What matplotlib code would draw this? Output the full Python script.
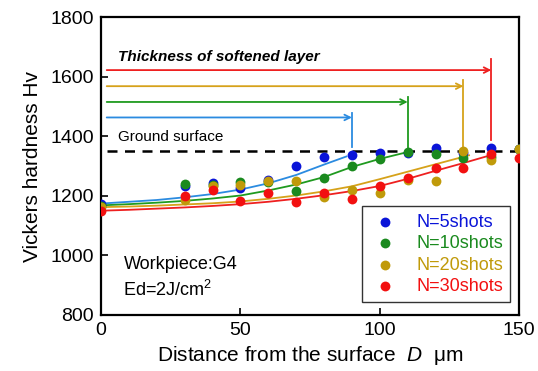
"""
Vickers hardness profiles vs depth for different shot counts
"""
import numpy as np
import matplotlib
matplotlib.use("Agg")
import matplotlib.pyplot as plt

plt.rcParams['font.family'] = ['Liberation Sans', 'DejaVu Sans']
plt.rcParams['mathtext.fontset'] = 'custom'
plt.rcParams['mathtext.it'] = 'Liberation Sans:italic'
plt.rcParams['mathtext.rm'] = 'Liberation Sans'

depth = [0, 30, 40, 50, 60, 70, 80, 90, 100, 110, 120, 130, 140, 150]
hv_5 = [1172, 1232, 1242, 1226, 1253, 1300, 1329, 1337, 1343, 1344, 1361, 1345, 1362, 1358]
hv_10 = [1167, 1238, 1236, 1247, 1245, 1216, 1261, 1300, 1322, 1347, 1339, 1328, 1330, 1357]
hv_20 = [1163, 1186, 1233, 1236, 1250, 1251, 1196, 1220, 1210, 1254, 1250, 1350, 1320, 1357]
hv_30 = [1150, 1201, 1220, 1183, 1208, 1178, 1208, 1188, 1233, 1259, 1294, 1294, 1339, 1328]

# fitted curves
fit_x_5 = [0, 10, 20, 30, 40, 50, 60, 70, 80, 88]
fit_5 = [1174, 1180, 1186, 1195, 1206, 1221, 1242, 1270, 1305, 1332]
fit_x_10 = [0, 10, 20, 30, 40, 50, 60, 70, 80, 90, 100, 110]
fit_10 = [1168, 1172, 1177, 1183, 1191, 1201, 1218, 1238, 1263, 1297, 1324, 1347]
fit_x_20 = [0, 10, 20, 30, 40, 50, 60, 70, 80, 90, 100, 110, 120, 132]
fit_20 = [1162, 1164, 1167, 1171, 1175, 1181, 1190, 1201, 1215, 1232, 1256, 1281, 1306, 1336]
fit_x_30 = [0, 10, 20, 30, 40, 50, 60, 70, 80, 90, 100, 110, 120, 130, 140]
fit_30 = [1150, 1153, 1157, 1161, 1166, 1172, 1180, 1190, 1202, 1216, 1233, 1257, 1284, 1310, 1337]

labels = ["N=5shots", "N=10shots", "N=20shots", "N=30shots"]
dot_colors = ["#0a14d8", "#1a8a1e", "#c09a0a", "#f21010"]
line_colors = ["#2b8be0", "#1f9a1f", "#d6a21a", "#ee2020"]

# softened layer thickness arrows: (end depth, arrow level, top, bottom)
thickness = [90, 110, 130, 140]
arrow_level = [1463, 1515, 1568, 1622]
arrow_top = [1478, 1532, 1590, 1660]
arrow_bottom = [1365, 1352, 1352, 1388]
ground = 1350

fig = plt.figure(figsize=(5.38, 3.71), dpi=100)
ax = fig.add_axes([0.188, 0.151, 0.777, 0.803])

series = [hv_5, hv_10, hv_20, hv_30]
fits = [(fit_x_5, fit_5), (fit_x_10, fit_10), (fit_x_20, fit_20), (fit_x_30, fit_30)]

for (fx, fy), c in zip(fits, line_colors):
    ax.plot(fx, fy, color=c, lw=1.3, zorder=2)

for hv, c, lab in zip(series, dot_colors, labels):
    ax.scatter(depth, hv, s=50, color=c, label=lab, zorder=3, linewidths=0)

ax.plot([2, 150], [ground, ground], color="black", lw=1.8, ls=(0, (4, 3)), zorder=1)
ax.text(6, 1397, "Ground surface", fontsize=11, va="center")

for end, lvl, top, bot, c in zip(thickness, arrow_level, arrow_top, arrow_bottom, line_colors):
    ax.annotate("", xy=(end, lvl), xytext=(2, lvl),
                arrowprops=dict(arrowstyle="->", color=c, lw=1.3,
                                shrinkA=0, shrinkB=0, mutation_scale=10))
    ax.plot([end, end], [bot, top], color=c, lw=1.3)

ax.text(6, 1666, "Thickness of softened layer", fontsize=11,
        fontweight="bold", fontstyle="italic", va="center")

ax.text(8, 968, "Workpiece:G4", fontsize=13, va="center")
ax.text(8, 884, "Ed=2J/cm$^2$", fontsize=13, va="center")

ax.set_xlim(0, 150)
ax.set_ylim(800, 1800)
ax.set_xticks([0, 50, 100, 150])
ax.set_yticks([800, 1000, 1200, 1400, 1600, 1800])
ax.tick_params(direction="in", length=5, width=1.2, labelsize=14, pad=5)
for s in ax.spines.values():
    s.set_linewidth(1.6)

ax.set_xlabel("Distance from the surface  $D$  \u03bcm", fontsize=15, labelpad=4)
ax.set_ylabel("Vickers hardness Hv", fontsize=15, labelpad=6)

leg = ax.legend(loc="lower right", bbox_to_anchor=(1.0, 0.012), fontsize=13,
                frameon=True, fancybox=False, edgecolor="black",
                handletextpad=0.9, borderpad=0.4, labelspacing=0.25,
                scatterpoints=1, handlelength=1.7)
leg.get_frame().set_linewidth(1.0)
for t, c in zip(leg.get_texts(), dot_colors):
    t.set_color(c)

fig.savefig("out.png", dpi=100)
